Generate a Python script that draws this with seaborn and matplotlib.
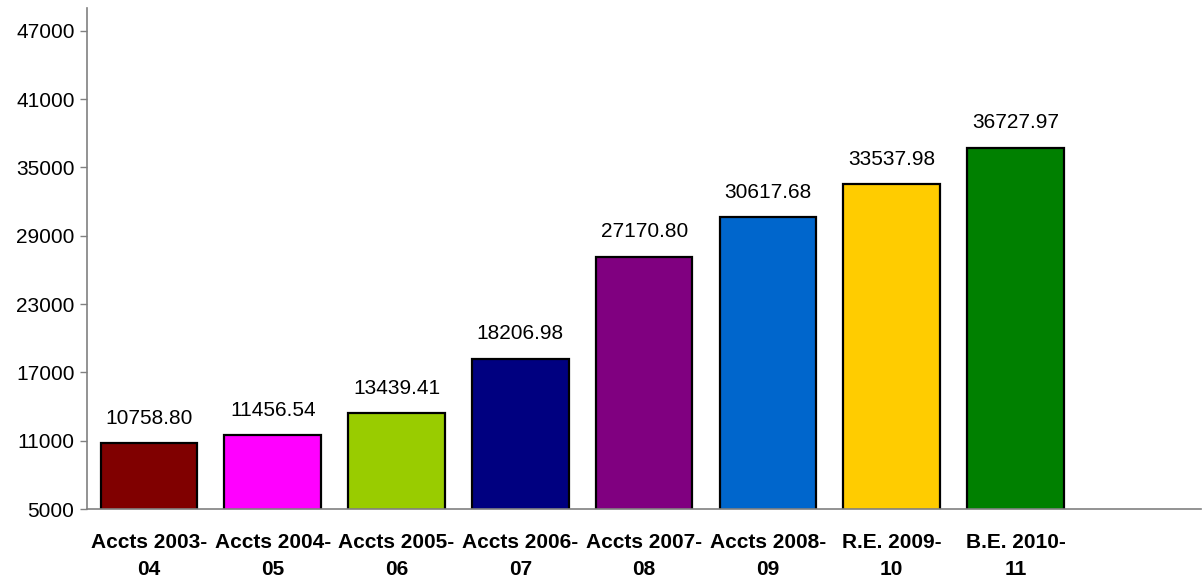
import numpy as np
import pandas as pd
import matplotlib
matplotlib.use('Agg')
import matplotlib.pyplot as plt
import seaborn as sns

# Данные
categories = ['Accts 2003-\n04', 'Accts 2004-\n05', 'Accts 2005-\n06', 'Accts 2006-\n07',
              'Accts 2007-\n08', 'Accts 2008-\n09', 'R.E. 2009-\n10', 'B.E. 2010-\n11']
values = [10758.80, 11456.54, 13439.41, 18206.98, 27170.80, 30617.68, 33537.98, 36727.97]
colors = ['#800000', '#FF00FF', '#99CC00', '#000080', '#800080', '#0066CC', '#FFCC00', '#008000']
yticks = [5000, 11000, 17000, 23000, 29000, 35000, 41000, 47000]

df = pd.DataFrame({'cat': categories, 'val': values})

sns.set_style('white')
plt.rcParams['font.family'] = ['Liberation Sans', 'DejaVu Sans']
plt.rcParams['text.color'] = 'black'
plt.rcParams['xtick.labelcolor'] = 'black'
plt.rcParams['ytick.labelcolor'] = 'black'

fig = plt.figure(figsize=(12.02, 5.82), dpi=100)
ax = fig.add_axes([0.0724, 0.1254, 0.927, 0.861])

sns.barplot(data=df, x='cat', y='val', hue='cat', palette=colors, legend=False,
            width=0.78, edgecolor='black', linewidth=1.6, saturation=1, ax=ax)

# Подписи значений
for i, c in enumerate(ax.containers):
    ax.bar_label(c, labels=[f'{values[i]:.2f}'], padding=11, fontsize=15, color='black')

ax.set_ylim(5000, 49000)
ax.set_xlim(-0.5, 8.5)
ax.set_yticks(yticks)
ax.set_yticklabels([str(t) for t in yticks], fontsize=15, color='black')
ax.set_xticks(range(len(categories)))
ax.set_xticklabels(categories, fontsize=15, fontweight='bold', linespacing=1.55, color='black')
ax.set_xticks(np.arange(-0.5, 8.0, 1.0), minor=True)
ax.tick_params(axis='x', which='major', length=0, pad=17)
ax.tick_params(axis='x', which='minor', length=5, width=1, color='#808080', direction='out')
ax.tick_params(axis='y', length=5, width=1, color='#808080', direction='out', pad=4, left=True)
ax.set_xlabel('')
ax.set_ylabel('')

for s in ['top', 'right']:
    ax.spines[s].set_visible(False)
for s in ['left', 'bottom']:
    ax.spines[s].set_color('#808080')
    ax.spines[s].set_linewidth(1.2)

fig.savefig('out.png', dpi=100)
